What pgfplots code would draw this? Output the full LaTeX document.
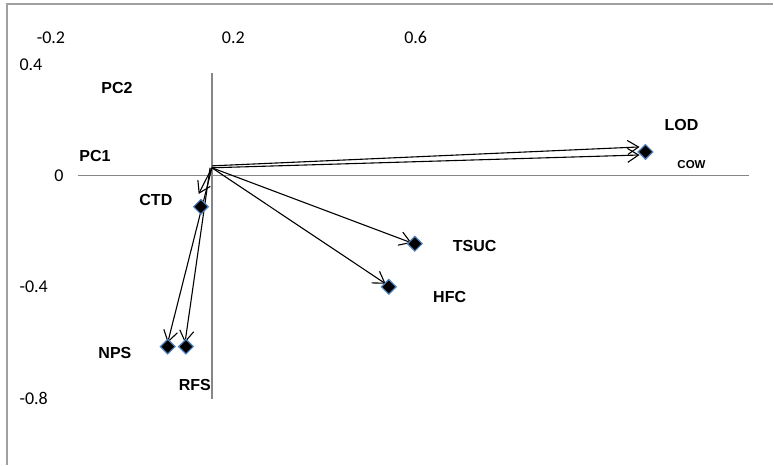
\documentclass[border=0pt]{standalone}
\usepackage{pgfplots}
\pgfplotsset{compat=1.18}
\usepackage{pgfplotstable}
\usetikzlibrary{arrows.meta}
\usepackage{fontspec}
\setmainfont{Carlito}
\newfontfamily\arial{Liberation Sans}
\definecolor{axisgray}{RGB}{134,134,134}
\definecolor{bordergray}{RGB}{160,160,160}
\definecolor{markblue}{RGB}{79,129,189}

% loadings (diamond markers)
\pgfplotstableread{
x y
0.129 -0.111
0.056 -0.614
0.096 -0.614
1.104 0.086
0.598 -0.244
0.541 -0.399
}\points

\begin{document}
\begin{tikzpicture}
\begin{axis}[
  at={(0,0)}, anchor=south west,
  width=774pt, height=465pt, scale only axis,
  xmin=-0.3118, xmax=1.3846, ymin=-1.0384, ymax=0.6324,
  axis line style={draw=none},
  tick style={draw=none},
  major tick length=0pt,
  clip=false,
  xtick={-0.2,0.2,0.6},
  xticklabels={-0.2,0.2,0.6},
  xticklabel pos=right,
  xticklabel style={anchor=center, yshift=-38pt, font=\fontsize{18}{21}\selectfont},
  ytick={-0.8,-0.4,0,0.4},
  yticklabels={-0.8,-0.4,\hspace{35pt}0,0.4},
  yticklabel pos=left,
  yticklabel style={anchor=west, xshift=16pt, font=\fontsize{18}{21}\selectfont},
]
% chart border (top and left)
\addplot[bordergray, line width=1.2pt] coordinates {(-0.2964,-1.0384) (-0.2964,0.618) (1.3846,0.618)};
% axis lines
\addplot[axisgray, line width=1.2pt] coordinates {(-0.1408,0) (1.332,0)};
\addplot[axisgray, line width=1.2pt] coordinates {(0.153,0.370) (0.153,-0.8013)};
% arrows
\pgfplotsset{arr/.style={black, line width=1.1pt, -{Straight Barb[length=11pt,width=14pt,line width=1.1pt]}}}
\addplot[arr] coordinates {(0.153,0.036) (1.091,0.104)};
\addplot[arr] coordinates {(0.153,0.029) (1.091,0.075)};
\addplot[arr] coordinates {(0.153,0.029) (0.591,-0.241)};
\addplot[arr] coordinates {(0.153,0.029) (0.534,-0.388)};
\addplot[arr] coordinates {(0.153,0.029) (0.124,-0.065)};
\addplot[arr] coordinates {(0.153,0.029) (0.056,-0.600)};
\addplot[arr] coordinates {(0.149,0.029) (0.094,-0.600)};
% markers
\addplot[only marks, mark=square*, mark size=5.2pt,
  mark options={rotate=45, fill=black, draw=markblue, line width=1.2pt}] table[x=x,y=y] {\points};
% labels
\begin{scope}[every node/.style={font=\arial\bfseries\fontsize{16}{19}\selectfont, inner sep=0pt}]
\node at (axis cs:-0.0553,0.316) {PC2};
\node at (axis cs:-0.1036,0.0719) {PC1};
\node at (axis cs:0.0301,-0.0862) {CTD};
\node at (axis cs:-0.0597,-0.636) {NPS};
\node at (axis cs:0.1156,-0.751) {RFS};
\node at (axis cs:1.183,0.183) {LOD};
\node at (axis cs:0.7293,-0.2515) {TSUC};
\node at (axis cs:0.6745,-0.4348) {HFC};
\node[font=\arial\bfseries\fontsize{11.5}{14}\selectfont] at (axis cs:1.205,0.0395) {COW};
\end{scope}
\end{axis}
\end{tikzpicture}
\end{document}
